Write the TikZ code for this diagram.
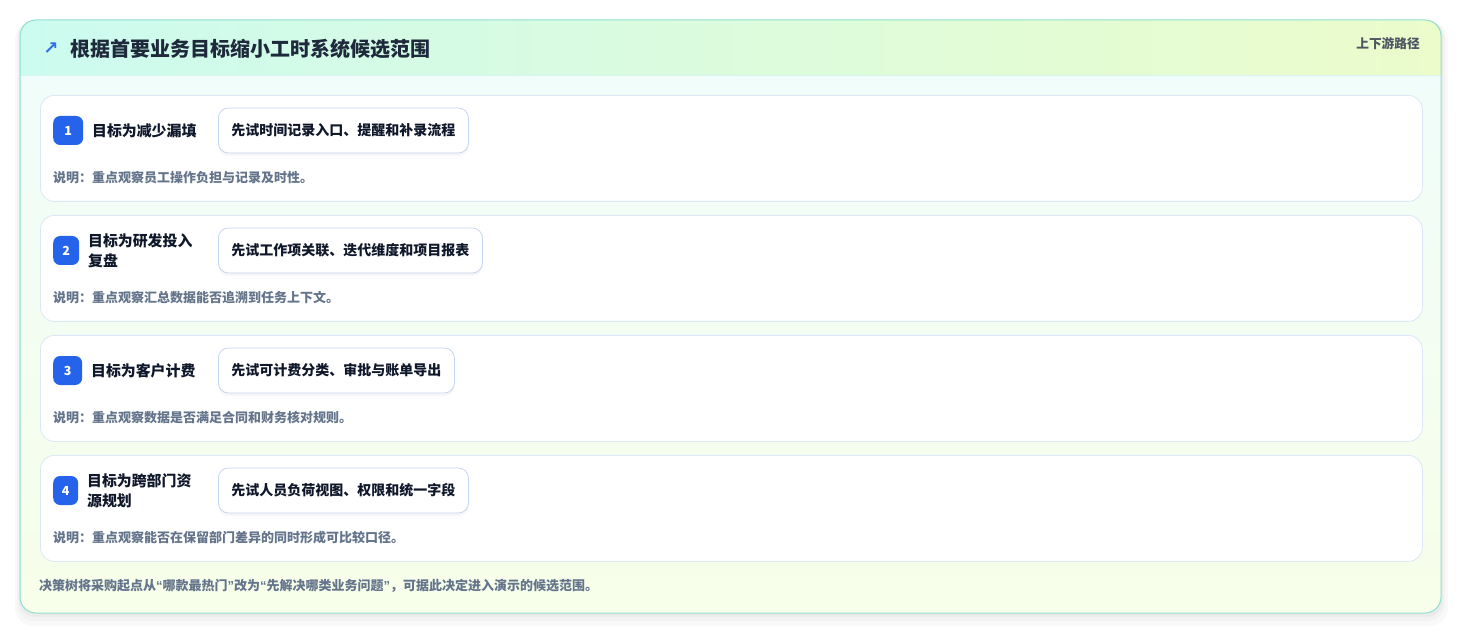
\documentclass[tikz,border=0pt]{standalone}
\usepackage{fontspec}
\setmainfont{Noto Sans CJK SC}
\newfontfamily\symfont{DejaVu Sans}
\newfontfamily\latinq{Liberation Sans}
\usetikzlibrary{shadows}
\definecolor{cardborder}{HTML}{8FDFCF}
\definecolor{headL}{HTML}{CCFBEF}
\definecolor{headR}{HTML}{ECFCCB}
\definecolor{bodyT}{HTML}{F0FDFA}
\definecolor{bodyB}{HTML}{F7FEE9}
\definecolor{rowborder}{HTML}{DCE8F5}
\definecolor{actborder}{HTML}{C3D6F2}
\definecolor{badgeblue}{HTML}{2563EB}
\definecolor{titlecol}{HTML}{1E293B}
\definecolor{labelcol}{HTML}{0F172A}
\definecolor{notecol}{HTML}{64748B}
\definecolor{sidecol}{HTML}{4B5563}
\definecolor{arrowcol}{HTML}{2F6FE8}
\newcommand{\ql}{{\latinq “}}
\newcommand{\qr}{{\latinq ”}}
\tikzset{
  rowbox/.style={draw=rowborder, line width=0.8pt, fill=white, rounded corners=14pt},
  badge/.style={fill=badgeblue, rounded corners=7pt, text=white, font=\bfseries\fontsize{12.5}{14}\selectfont, inner sep=0pt, minimum height=29pt},
  goallabel/.style={anchor=west, inner sep=0pt, align=left, text=labelcol, font=\bfseries\fontsize{14.9}{20}\selectfont},
  actbox/.style={anchor=west, draw=actborder, line width=0.8pt, fill=white, rounded corners=10pt, inner xsep=13pt, inner ysep=0pt, minimum height=45pt, text=labelcol, font=\bfseries\fontsize{14}{16}\selectfont, drop shadow={opacity=0.07, shadow xshift=0pt, shadow yshift=-3pt}},
  notetext/.style={anchor=west, inner sep=0pt, text=notecol, font=\bfseries\fontsize{13}{15}\selectfont},
}
\begin{document}
\begin{tikzpicture}[x=1pt,y=-1pt]
\useasboundingbox (0,0) rectangle (1462,636);
% outer shadow
\fill[black, opacity=0.025, rounded corners=18pt] (15,22) rectangle (1448,626);
\fill[black, opacity=0.025, rounded corners=17pt] (17,21) rectangle (1445,621);
\fill[black, opacity=0.03, rounded corners=16pt] (19,21) rectangle (1443,617);
% card fill
\begin{scope}
\clip[rounded corners=16pt] (20,20) rectangle (1441,613);
\shade[top color=bodyT, bottom color=bodyB] (20,75) rectangle (1441,613);
\shade[left color=headL, right color=headR] (20,20) rectangle (1441,75);
\draw[color=cardborder!35, line width=0.8pt] (20,75) -- (1441,75);
\end{scope}
\draw[cardborder, line width=1pt, rounded corners=16pt] (20,20) rectangle (1441,613);
% header
\node[anchor=center, inner sep=0pt, text=arrowcol, font=\symfont\bfseries\fontsize{18}{18}\selectfont] (arrow) at (51,49) {↗};
\node[anchor=west, inner sep=0pt, text=titlecol, font=\bfseries\fontsize{20}{22}\selectfont] (title) at (70,49) {根据首要业务目标缩小工时系统候选范围};
\node[anchor=east, inner sep=0pt, text=sidecol, font=\bfseries\fontsize{12.7}{14}\selectfont] (side) at (1420,44) {上下游路径};
% rows
\foreach \i/\num/\bw/\lab/\act/\note in {
  1/1/30/{目标为减少漏填}/{先试时间记录入口、提醒和补录流程}/{说明：重点观察员工操作负担与记录及时性。},
  2/2/26/{目标为研发投入\\复盘}/{先试工作项关联、迭代维度和项目报表}/{说明：重点观察汇总数据能否追溯到任务上下文。},
  3/3/29/{目标为客户计费}/{先试可计费分类、审批与账单导出}/{说明：重点观察数据是否满足合同和财务核对规则。},
  4/4/25/{目标为跨部门资\\源规划}/{先试人员负荷视图、权限和统一字段}/{说明：重点观察能否在保留部门差异的同时形成可比较口径。}
}{
  \pgfmathsetmacro{\top}{95+120*(\i-1)}
  \node[rowbox, anchor=north west, minimum width=1382pt, minimum height=106pt, inner sep=0pt] (row\i) at (40,\top) {};
  \node[badge, minimum width=\bw pt, anchor=west] (badge\i) at (53,\top+35.5) {\num};
  \node[goallabel] (goal\i) at ([xshift=8.5pt]badge\i.east) {\lab};
  \node[actbox] (act\i) at (218,\top+35.5) {\act};
  \node[notetext] (note\i) at (53,\top+83) {\note};
}
% footer
\node[anchor=west, inner sep=0pt, text=notecol, font=\bfseries\fontsize{13}{15}\selectfont] (footer) at (39,586) {决策树将采购起点从\ql 哪款最热门\qr 改为\ql 先解决哪类业务问题\qr ，可据此决定进入演示的候选范围。};
\end{tikzpicture}
\end{document}
